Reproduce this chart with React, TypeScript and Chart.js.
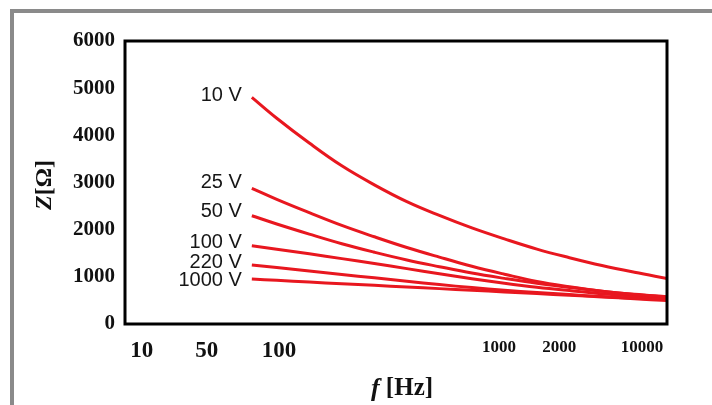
import { useEffect, useRef } from 'react';
import { Chart, registerables } from 'chart.js';
Chart.register(...registerables);

// x positions of samples in axis units (0..100 across the plot)
const freqPos = [23.4, 28, 34, 40, 46, 52, 58, 64, 70, 76, 82, 88, 94, 100];
const z10 = [4806, 4363, 3837, 3354, 2951, 2595, 2302, 2037, 1804, 1588, 1406, 1240, 1096, 965];
const z25 = [2877, 2642, 2360, 2090, 1849, 1622, 1418, 1225, 1056, 901, 789, 697, 630, 579];
const z50 = [2296, 2120, 1906, 1702, 1522, 1357, 1215, 1081, 967, 863, 776, 695, 625, 566];
const z100 = [1660, 1586, 1490, 1386, 1283, 1174, 1066, 960, 865, 780, 708, 642, 587, 543];
const z220 = [1251, 1196, 1124, 1050, 979, 905, 836, 772, 717, 668, 623, 581, 545, 513];
const z1000 = [954, 926, 890, 854, 820, 784, 750, 714, 681, 644, 611, 575, 534, 498];
const seriesLabels = ['10 V', '25 V', '50 V', '100 V', '220 V', '1000 V'];
const seriesValues = [z10, z25, z50, z100, z220, z1000];

const xTickAt = [3.1, 15.1, 28.4, 69.0, 80.1, 95.4];
const xTickLabels = ['10', '50', '100', '1000', '2000', '10000'];
const yTicks = [0, 1000, 2000, 3000, 4000, 5000, 6000];

const SERIF = '"Liberation Serif", "Times New Roman", serif';
const SANS = '"Liberation Sans", Arial, sans-serif';
const RED = '#e8171f';
const LABEL_DY = [-2, -6, -4, -3, -3, 1];

const framePlugin = {
  id: 'frame',
  afterDraw(chart: any) {
    const { ctx, chartArea: a } = chart;
    ctx.save();
    ctx.strokeStyle = '#000';
    ctx.lineWidth = 3;
    ctx.strokeRect(a.left, a.top, a.right - a.left, a.bottom - a.top);
    ctx.restore();
  },
};

const curveLabelPlugin = {
  id: 'curveLabels',
  afterDatasetsDraw(chart: any) {
    const { ctx } = chart;
    ctx.save();
    ctx.font = `20px ${SANS}`;
    ctx.fillStyle = '#161616';
    ctx.textAlign = 'right';
    ctx.textBaseline = 'middle';
    chart.data.datasets.forEach((ds: any, i: number) => {
      const meta = chart.getDatasetMeta(i);
      const p = meta.data[0];
      if (!p) return;
      ctx.fillText(ds.label, p.x - 10, p.y + LABEL_DY[i]);
    });
    ctx.restore();
  },
};

const titlePlugin = {
  id: 'axisTitles',
  afterDraw(chart: any) {
    const { ctx } = chart;
    ctx.save();
    ctx.fillStyle = '#111';
    ctx.textBaseline = 'middle';
    ctx.textAlign = 'left';
    const fZ = `italic bold 24px ${SERIF}`;
    const fB = `bold 24px ${SERIF}`;
    ctx.font = fZ;
    const wZ = ctx.measureText('Z').width;
    ctx.font = fB;
    const wR = ctx.measureText('[Ω]').width;
    ctx.translate(45, 185);
    ctx.rotate(-Math.PI / 2);
    const start = -(wZ + wR) / 2;
    ctx.font = fZ;
    ctx.fillText('Z', start, 0);
    ctx.font = fB;
    ctx.fillText('[Ω]', start + wZ, 0);
    ctx.setTransform(1, 0, 0, 1, 0, 0);
    const fF = `italic bold 26px ${SERIF}`;
    const fH = `bold 25px ${SERIF}`;
    ctx.font = fF;
    const wF = ctx.measureText('f').width;
    ctx.font = fH;
    const wH = ctx.measureText(' [Hz]').width;
    const sx = 402 - (wF + wH) / 2;
    ctx.font = fF;
    ctx.fillText('f', sx, 389);
    ctx.font = fH;
    ctx.fillText(' [Hz]', sx + wF, 389);
    ctx.restore();
  },
};

export default function App() {
  const ref = useRef<HTMLCanvasElement>(null);
  useEffect(() => {
    document.body.style.margin = '0';
    const chart = new Chart(ref.current!, {
      type: 'line',
      data: {
        datasets: seriesLabels.map((label, i) => ({
          label,
          data: freqPos.map((x, j) => ({ x, y: seriesValues[i][j] })),
          borderColor: RED,
          borderWidth: 3,
          pointRadius: 0,
          tension: 0.4,
          fill: false,
        })),
      },
      options: {
        responsive: false,
        animation: false,
        devicePixelRatio: 1,
        layout: { padding: { left: 0, right: 45, top: 41, bottom: 0 } },
        plugins: { legend: { display: false }, tooltip: { enabled: false } },
        scales: {
          x: {
            type: 'linear',
            min: 0,
            max: 100,
            grid: { display: false },
            border: { display: false },
            afterBuildTicks: (scale: any) => {
              scale.ticks = xTickAt.map((v) => ({ value: v }));
            },
            afterFit: (scale: any) => {
              scale.height = 81;
            },
            ticks: {
              autoSkip: false,
              maxRotation: 0,
              padding: 5,
              color: '#111',
              font: (c: any) =>
                c.index < 3
                  ? { family: SERIF, size: 23, weight: 'bold' }
                  : { family: SERIF, size: 17, weight: 'bold' },
              callback: (_v: any, i: number) => xTickLabels[i],
            },
          },
          y: {
            type: 'linear',
            min: 0,
            max: 6000,
            grid: { display: false },
            border: { display: false },
            afterBuildTicks: (scale: any) => {
              scale.ticks = yTicks.map((v) => ({ value: v }));
            },
            afterFit: (scale: any) => {
              scale.width = 125;
            },
            ticks: {
              padding: 2,
              color: '#111',
              font: { family: SERIF, size: 21, weight: 'bold' },
              callback: (v: any) => String(v),
            },
          },
        },
      },
      plugins: [framePlugin, curveLabelPlugin, titlePlugin],
    });
    return () => chart.destroy();
  }, []);
  return (
    <div style={{ position: 'relative', width: 712, height: 405, background: '#fff' }}>
      <div
        style={{
          position: 'absolute',
          left: 10,
          top: 9,
          right: 0,
          bottom: 0,
          borderTop: '4px solid #8a8a8a',
          borderLeft: '4px solid #8a8a8a',
        }}
      />
      <canvas
        ref={ref}
        width={712}
        height={405}
        style={{ position: 'absolute', left: 0, top: 0, display: 'block' }}
      />
    </div>
  );
}
